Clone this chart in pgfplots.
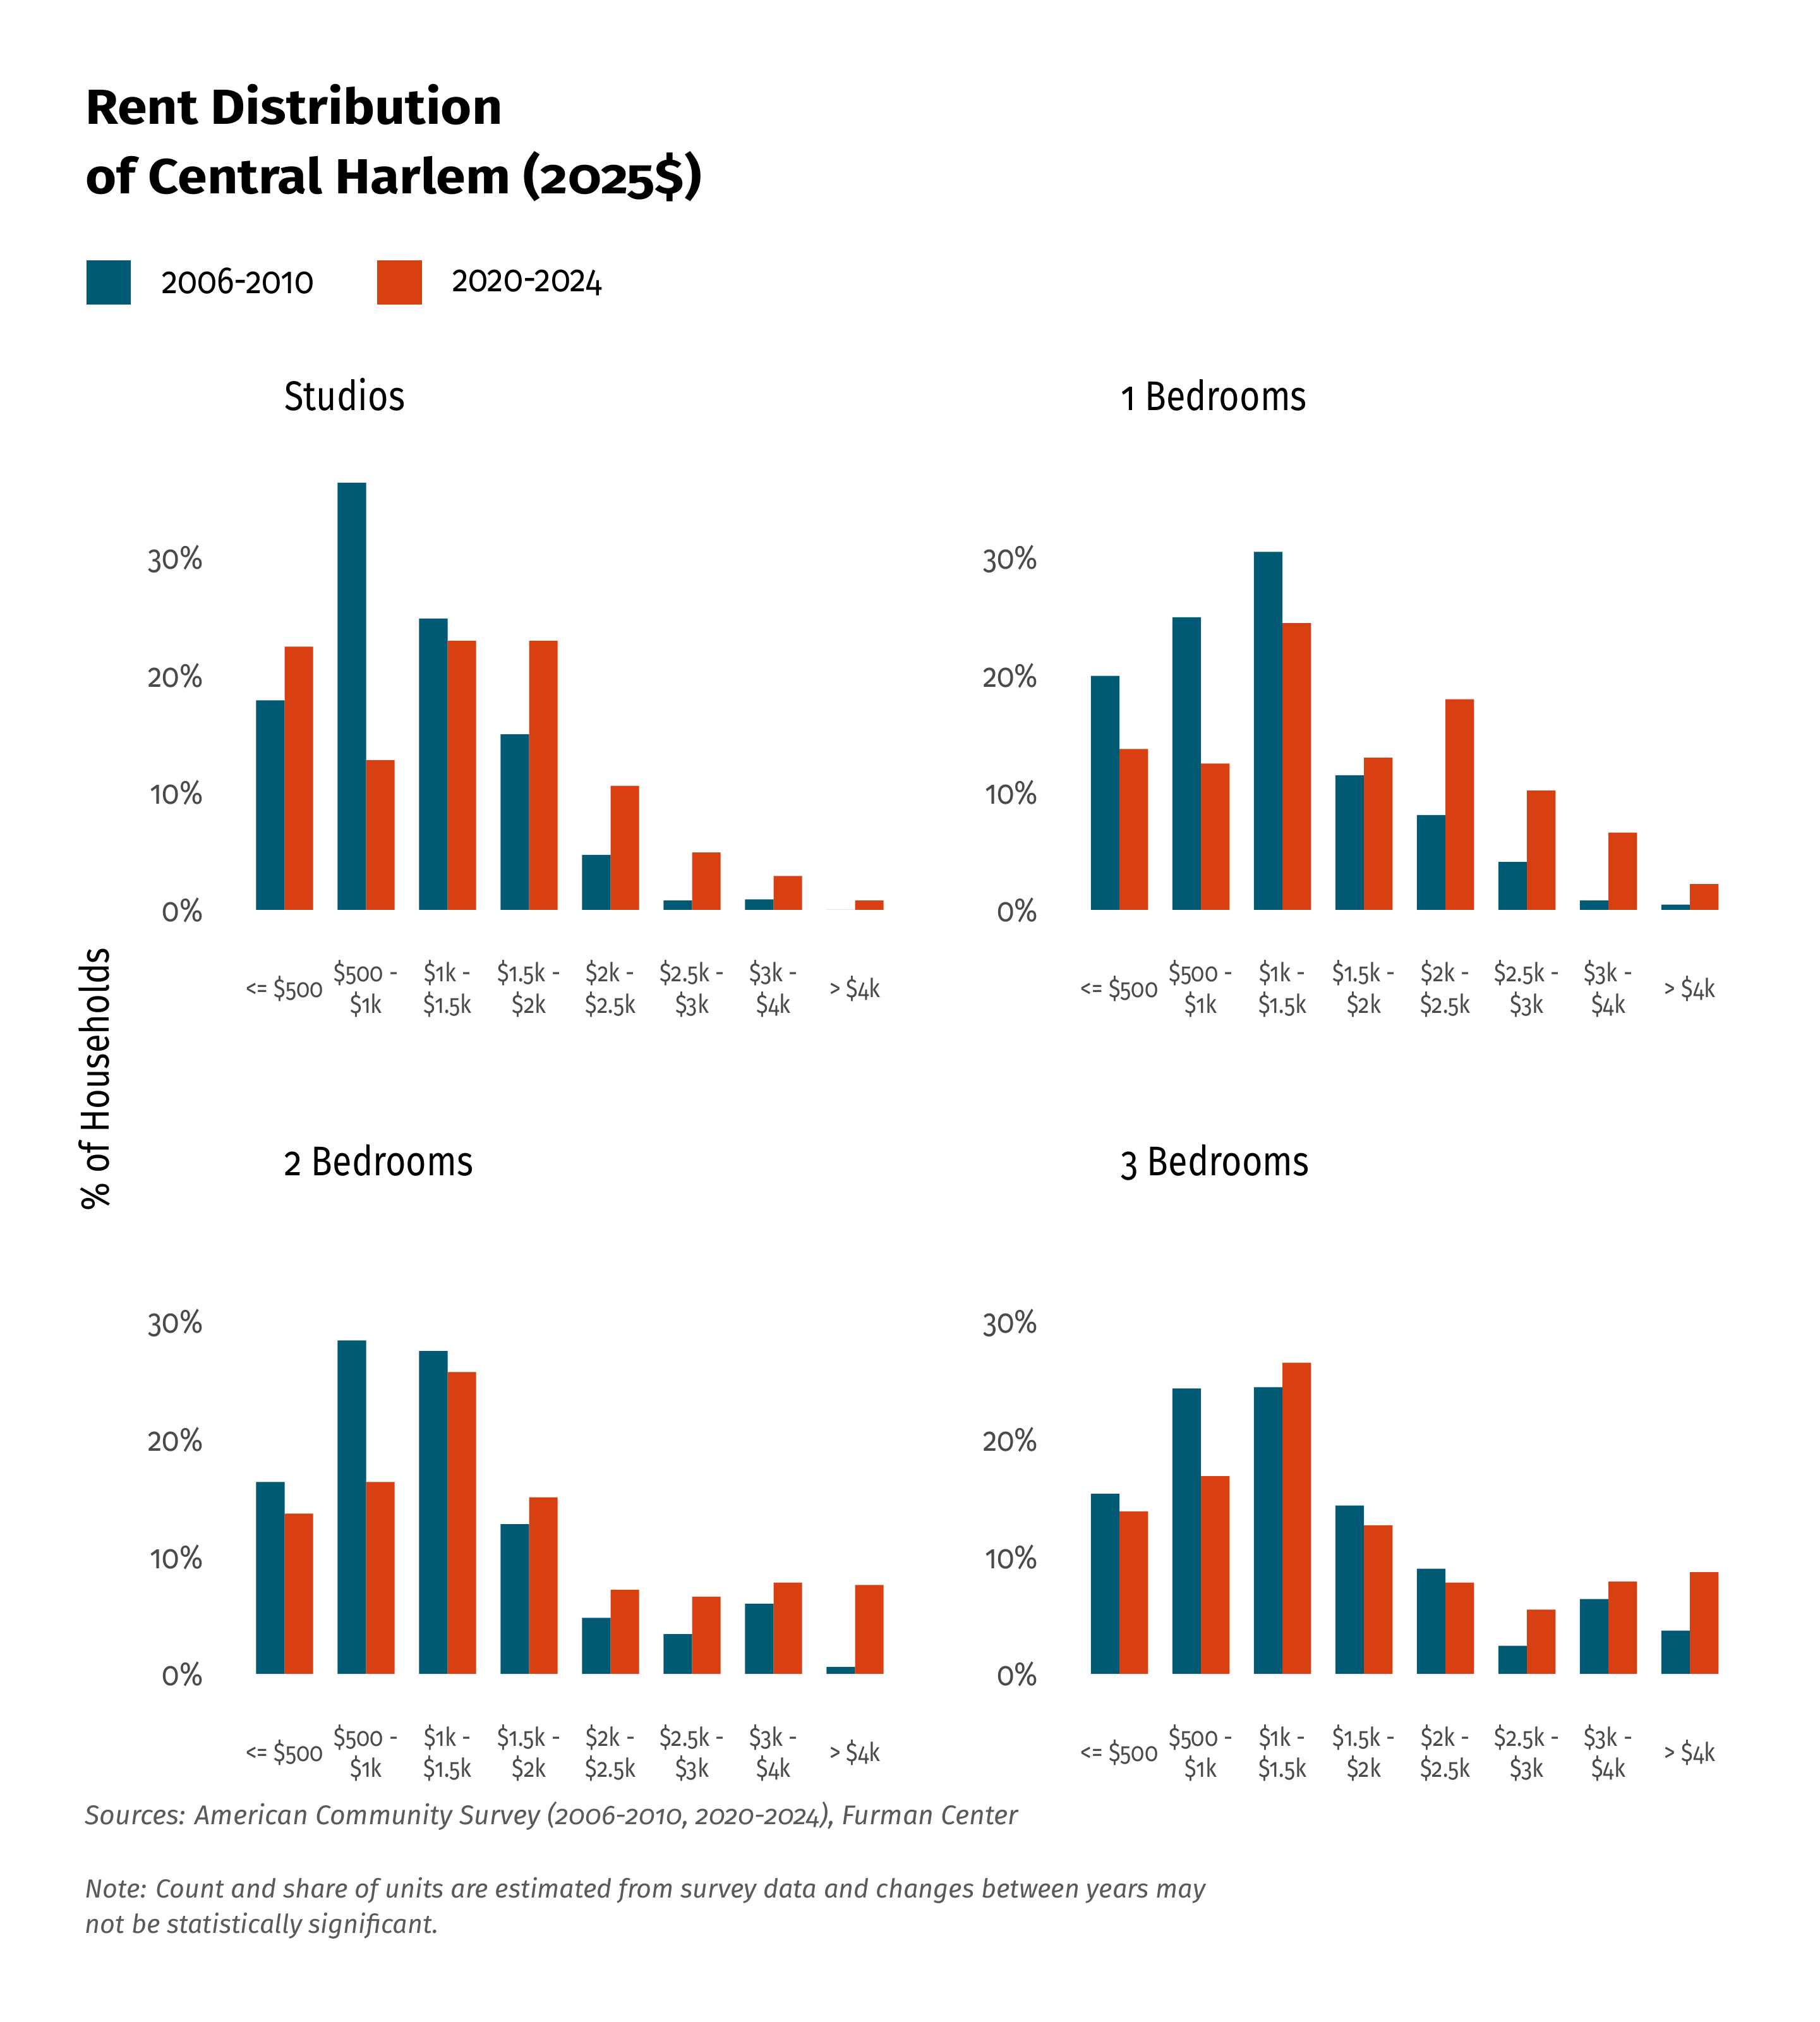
\documentclass[border=0pt]{standalone}
\usepackage{fontspec}
\setmainfont{Fira Sans}[Numbers=OldStyle, FakeStretch=0.85]
\newfontfamily\titlefont{Fira Sans}[Numbers=OldStyle, FakeStretch=1.08]
\newfontfamily\notefont{Fira Sans}[Numbers=OldStyle, FakeStretch=1.0]
\usepackage{pgfplots}
\pgfplotsset{compat=1.18}
\definecolor{cblue}{HTML}{005A73}
\definecolor{corange}{HTML}{D84012}
\definecolor{tickgray}{HTML}{4A4A4A}
\definecolor{notegray}{HTML}{5A5A5A}

\pgfplotsset{panel/.style={
  scale only axis, width=258pt, height=175.94pt,
  xmin=-0.5, xmax=7.5, ymin=0, ymax=38,
  ybar=0pt, bar width=11.3pt,
  axis line style={draw=none}, major tick length=0pt,
  xtick={0,1,2,3,4,5,6,7},
  xticklabels={{<= \$500},{\$500 -\\\$1k},{\$1k -\\\$1.5k},{\$1.5k -\\\$2k},{\$2k -\\\$2.5k},{\$2.5k -\\\$3k},{\$3k -\\\$4k},{> \$4k}},
  ytick={0,10,20,30}, yticklabels={0\%,10\%,20\%,30\%},
  xticklabel style={anchor=center, inner sep=0pt, yshift=-31.2pt, align=center, font=\fontsize{10.3}{12.3}\selectfont, text=tickgray},
  yticklabel style={anchor=east, inner sep=0pt, xshift=-15.9pt, font=\fontsize{13.3}{14}\selectfont, text=tickgray},
  anchor=south west, clip=false,
}, 
blueb/.style={fill=cblue, draw=none, legend image code/.code={\fill[cblue] (0pt,-8.8pt) rectangle (17.6pt,8.8pt);}},
orangeb/.style={fill=corange, draw=none, legend image code/.code={\fill[corange] (0pt,-8.8pt) rectangle (17.6pt,8.8pt);}},
}

\begin{document}
\begin{tikzpicture}
\useasboundingbox (0,0) rectangle (720pt,800pt);
\fill[white] (0,0) rectangle (720pt,800pt);

% Title
\node[anchor=base west, inner sep=0pt, font=\titlefont\bfseries\fontsize{19.5}{24}\selectfont] at (33.7pt,750.9pt) {Rent Distribution};
\node[anchor=base west, inner sep=0pt, font=\titlefont\bfseries\fontsize{19.5}{24}\selectfont] at (33.7pt,723.4pt) {of Central Harlem (2025\$)};

% Panel 1: Studios
\begin{axis}[panel, at={(96.5pt,440pt)},
  legend style={draw=none, fill=none, inner sep=0pt, at={(-0.2422,1.4619)}, anchor=north west,
    legend columns=2, font=\fontsize{15}{17}\selectfont, nodes={inner sep=0pt},
    /tikz/every odd column/.append style={column sep=12.2pt},
    /tikz/every even column/.append style={column sep=25pt}},
  legend cell align=left]
\addplot[blueb] coordinates {(0,17.9) (1,36.5) (2,24.9) (3,15.0) (4,4.7) (5,0.8) (6,0.9) (7,0)};
\addplot[orangeb] coordinates {(0,22.5) (1,12.8) (2,23.0) (3,23.0) (4,10.6) (5,4.9) (6,2.9) (7,0.8)};
\legend{2006-2010,2020-2024}
\end{axis}

% Panel 2: 1 Bedrooms
\begin{axis}[panel, at={(426.9pt,440pt)}]
\addplot[blueb] coordinates {(0,20.0) (1,25.0) (2,30.6) (3,11.5) (4,8.1) (5,4.1) (6,0.8) (7,0.45)};
\addplot[orangeb] coordinates {(0,13.75) (1,12.5) (2,24.5) (3,13.0) (4,18.0) (5,10.2) (6,6.6) (7,2.2)};
\end{axis}

% Panel 3: 2 Bedrooms
\begin{axis}[panel, at={(96.5pt,137.7pt)}]
\addplot[blueb] coordinates {(0,16.4) (1,28.5) (2,27.6) (3,12.8) (4,4.8) (5,3.4) (6,6.0) (7,0.6)};
\addplot[orangeb] coordinates {(0,13.7) (1,16.4) (2,25.8) (3,15.1) (4,7.2) (5,6.6) (6,7.8) (7,7.6)};
\end{axis}

% Panel 4: 3 Bedrooms
\begin{axis}[panel, at={(426.9pt,137.7pt)}]
\addplot[blueb] coordinates {(0,15.4) (1,24.4) (2,24.5) (3,14.4) (4,9.0) (5,2.4) (6,6.4) (7,3.7)};
\addplot[orangeb] coordinates {(0,13.9) (1,16.9) (2,26.6) (3,12.7) (4,7.8) (5,5.5) (6,7.9) (7,8.7)};
\end{axis}

% Panel titles
\node[anchor=base west, inner sep=0pt, font=\fontsize{16.4}{18}\selectfont] at (112.4pt,637.7pt) {Studios};
\node[anchor=base west, inner sep=0pt, font=\fontsize{16.4}{18}\selectfont] at (443.3pt,637.7pt) {1 Bedrooms};
\node[anchor=base west, inner sep=0pt, font=\fontsize{16.4}{18}\selectfont] at (112.4pt,334.9pt) {2 Bedrooms};
\node[anchor=base west, inner sep=0pt, font=\fontsize{16.4}{18}\selectfont] at (443.3pt,334.9pt) {3 Bedrooms};

% y label
\node[rotate=90, inner sep=0pt, font=\fontsize{16}{18}\selectfont] at (37.3pt,373pt) {\% of Households};

% Notes
\node[anchor=base west, inner sep=0pt, text=notegray, font=\notefont\itshape\fontsize{10.7}{12}\selectfont] at (33.5pt,78pt) {Sources: American Community Survey (2006-2010, 2020-2024), Furman Center};
\node[anchor=base west, inner sep=0pt, text=notegray, font=\notefont\itshape\fontsize{10.35}{12}\selectfont] at (33.5pt,49.2pt) {Note: Count and share of units are estimated from survey data and changes between years may};
\node[anchor=base west, inner sep=0pt, text=notegray, font=\notefont\itshape\fontsize{10.35}{12}\selectfont] at (33.5pt,35pt) {not be statistically significant.};
\end{tikzpicture}
\end{document}
